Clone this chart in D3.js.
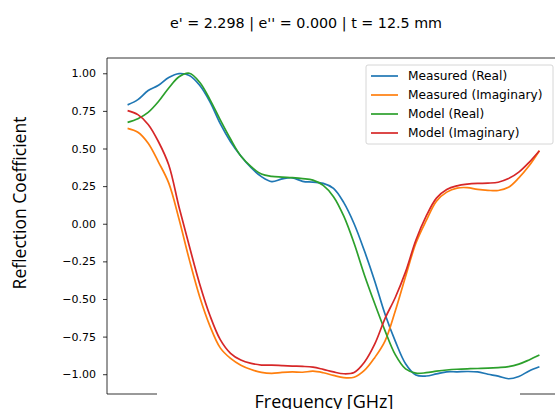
<!DOCTYPE html>
<html>
<head>
<meta charset="utf-8">
<script src="https://cdn.jsdelivr.net/npm/d3@7"></script>
<style>
	body { margin: 0; background: #fff; }
	svg { display: block; }
	.tick text { font-family: "DejaVu Sans", sans-serif; font-size: 11px; fill: #000; }
	.tick line { stroke: #000; stroke-width: 0.8; }
</style>
</head>
<body>
<svg id="chart" width="555" height="409"></svg>
<script>
// frequency grid (GHz)
const freq = d3.range(41).map((i) => 8 + i * 0.1);

const measuredReal = [
	0.79, 0.825, 0.885, 0.92, 0.972, 0.998, 0.985, 0.92, 0.81, 0.665,
	0.545, 0.45, 0.372, 0.313, 0.28, 0.298, 0.305, 0.282, 0.276, 0.268,
	0.235, 0.14, 0.0, -0.18, -0.38, -0.6, -0.78, -0.93, -1.005, -1.012,
	-0.998, -0.984, -0.984, -0.982, -0.985, -1.0, -1.013, -1.03, -1.015, -0.978,
	-0.95,
];
const measuredImag = [
	0.634, 0.608, 0.535, 0.41, 0.27, 0.03, -0.24, -0.485, -0.68, -0.825,
	-0.895, -0.94, -0.969, -0.988, -0.994, -0.988, -0.985, -0.987, -0.98, -0.99,
	-1.008, -1.023, -1.02, -0.975, -0.89, -0.78, -0.58, -0.35, -0.13, 0.02,
	0.15, 0.21, 0.237, 0.24, 0.228, 0.222, 0.221, 0.242, 0.305, 0.385,
	0.485,
];
const modelReal = [
	0.674, 0.698, 0.74, 0.812, 0.902, 0.977, 1.0, 0.94, 0.825, 0.69,
	0.563, 0.45, 0.38, 0.33, 0.315, 0.31, 0.306, 0.3, 0.29, 0.255,
	0.18, 0.05, -0.13, -0.34, -0.53, -0.71, -0.87, -0.965, -0.993, -0.99,
	-0.98, -0.972, -0.967, -0.964, -0.962, -0.96, -0.956, -0.95, -0.933, -0.905,
	-0.873,
];
const modelImag = [
	0.752, 0.725, 0.66, 0.545, 0.39, 0.11, -0.15, -0.4, -0.61, -0.77,
	-0.861, -0.906, -0.928, -0.939, -0.94, -0.943, -0.946, -0.948, -0.953, -0.968,
	-0.985, -0.997, -0.988, -0.92, -0.8, -0.63, -0.49, -0.32, -0.11, 0.05,
	0.17, 0.228, 0.252, 0.263, 0.268, 0.27, 0.276, 0.3, 0.343, 0.408,
	0.485,
];

const seriesNames = ["Measured (Real)", "Measured (Imaginary)", "Model (Real)", "Model (Imaginary)"];
const seriesValues = [measuredReal, measuredImag, modelReal, modelImag];
const seriesColors = ["#1f77b4", "#ff7f0e", "#2ca02c", "#d62728"];
const yTicks = [-1.0, -0.75, -0.5, -0.25, 0.0, 0.25, 0.5, 0.75, 1.0];

const titleText = "e' = 2.298 | e'' = 0.000 | t = 12.5 mm";

const svg = d3.select("svg#chart");

const plot = { left: 107, right: 560, top: 58, bottom: 394 };

// matplotlib style 5% margins
const xPad = (d3.max(freq) - d3.min(freq)) * 0.05;
const scaleX = d3.scaleLinear()
	.domain([d3.min(freq) - xPad, d3.max(freq) + xPad])
	.range([plot.left, plot.right]);

const allVals = seriesValues.flat();
const yLo = d3.min(allVals), yHi = d3.max(allVals);
const yPad = (yHi - yLo) * 0.05;
const scaleY = d3.scaleLinear()
	.domain([yLo - yPad, yHi + yPad])
	.range([plot.bottom, plot.top]);

// y axis
svg.append("g")
	.attr("transform", `translate(${plot.left},0)`)
	.call(d3.axisLeft(scaleY).tickValues(yTicks).tickFormat(d3.format(".2f")).tickSize(4).tickPadding(7))
	.call((g) => g.select(".domain").remove());

// lines
const line = d3.line()
	.x((d, i) => scaleX(freq[i]))
	.y((d) => scaleY(d))
	.curve(d3.curveCatmullRom);

svg.append("g")
	.selectAll("path")
	.data(seriesValues)
	.join("path")
	.attr("d", (d) => line(d))
	.attr("fill", "none")
	.attr("stroke", (d, i) => seriesColors[i])
	.attr("stroke-width", 1.7);

// spines
const spine = svg.append("g").attr("stroke", "#000").attr("stroke-width", 0.8);
spine.append("line").attr("x1", plot.left).attr("x2", plot.left).attr("y1", plot.top).attr("y2", plot.bottom);
spine.append("line").attr("x1", plot.left).attr("x2", plot.right).attr("y1", plot.top).attr("y2", plot.top);
spine.append("line").attr("x1", plot.left).attr("x2", plot.right).attr("y1", plot.bottom).attr("y2", plot.bottom);

// the xlabel sits on a white patch that hides part of the bottom spine
svg.append("rect")
	.attr("x", 157).attr("y", plot.bottom - 3)
	.attr("width", 363).attr("height", 20)
	.attr("fill", "#fff");

svg.append("text")
	.attr("x", 324).attr("y", 408)
	.attr("text-anchor", "middle")
	.style("font-family", "'Open Sans', sans-serif")
	.style("font-size", "18px")
	.text("Frequency [GHz]");

svg.append("text")
	.attr("transform", "translate(26,203) rotate(-90)")
	.attr("text-anchor", "middle")
	.style("font-family", "'Open Sans', sans-serif")
	.style("font-size", "17.5px")
	.text("Reflection Coefficient");

svg.append("text")
	.attr("x", 306).attr("y", 28)
	.attr("text-anchor", "middle")
	.style("font-family", "'DejaVu Sans', sans-serif")
	.style("font-size", "14.3px")
	.text(titleText);

// legend
const legend = svg.append("g").attr("transform", "translate(366,65)");
legend.append("rect")
	.attr("width", 187).attr("height", 79)
	.attr("rx", 2)
	.attr("fill", "#fff").attr("fill-opacity", 0.8)
	.attr("stroke", "#ccc").attr("stroke-width", 0.8);
const items = legend.selectAll("g.item")
	.data(seriesNames)
	.join("g")
	.classed("item", true)
	.attr("transform", (d, i) => `translate(0, ${11 + i * 19})`);
items.append("line")
	.attr("x1", 5).attr("x2", 32)
	.attr("stroke", (d, i) => seriesColors[i])
	.attr("stroke-width", 1.7);
items.append("text")
	.attr("x", 42).attr("dy", "0.35em")
	.style("font-family", "'DejaVu Sans', sans-serif")
	.style("font-size", "12.2px")
	.text((d) => d);
</script>
</body>
</html>
